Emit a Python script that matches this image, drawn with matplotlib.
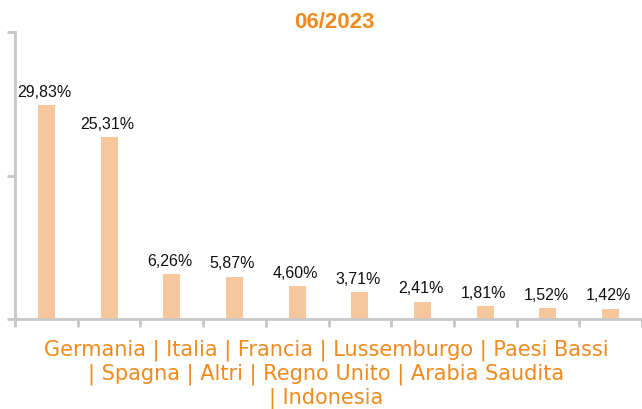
import matplotlib.pyplot as plt
import numpy as np

countries = ['Germania', 'Italia', 'Francia', 'Lussemburgo', 'Paesi Bassi',
             'Spagna', 'Altri', 'Regno Unito', 'Arabia Saudita', 'Indonesia']
shares = [29.83, 25.31, 6.26, 5.87, 4.60, 3.71, 2.41, 1.81, 1.52, 1.42]

orange = '#F08A1C'
bar_color = '#F6C79C'
grey = '#C8C8C8'

fig = plt.figure(figsize=(6.42, 4.10), dpi=100)
ax = fig.add_axes([0.0234, 0.2195, 0.9766, 0.70])

x = np.arange(len(countries))
ax.bar(x, shares, width=0.27, color=bar_color)

# value labels, italian decimal comma
for xi, v in zip(x, shares):
    ax.text(xi - 0.03, v + 0.9, f'{v:.2f}%'.replace('.', ','), ha='center', va='bottom',
            fontsize=11.5, family='Liberation Sans', color='#111111')

ax.set_xlim(-0.5, len(countries) - 0.5)
ax.set_ylim(0, 40)
ax.set_yticks([0, 20, 40])
ax.set_yticklabels([])
ax.set_xticks(np.arange(len(countries) + 1) - 0.5)
ax.set_xticklabels([])

for s in ['top', 'right']:
    ax.spines[s].set_visible(False)
for s in ['left', 'bottom']:
    ax.spines[s].set_color(grey)
    ax.spines[s].set_linewidth(2)
ax.tick_params(color=grey, width=2, length=6, direction='out')

fig.text(0.52, 0.946, '06/2023', color=orange, fontsize=16, fontweight='bold',
         family='Liberation Sans', ha='center', va='center')

fig.text(0.508, 0.088, ' | '.join(countries[:5]) + '\n| ' + ' | '.join(countries[5:9])
         + '\n| ' + countries[9],
         ha='center', va='center', color=orange, fontsize=15,
         family='DejaVu Sans', linespacing=1.15)

fig.savefig('out.png', dpi=100)
